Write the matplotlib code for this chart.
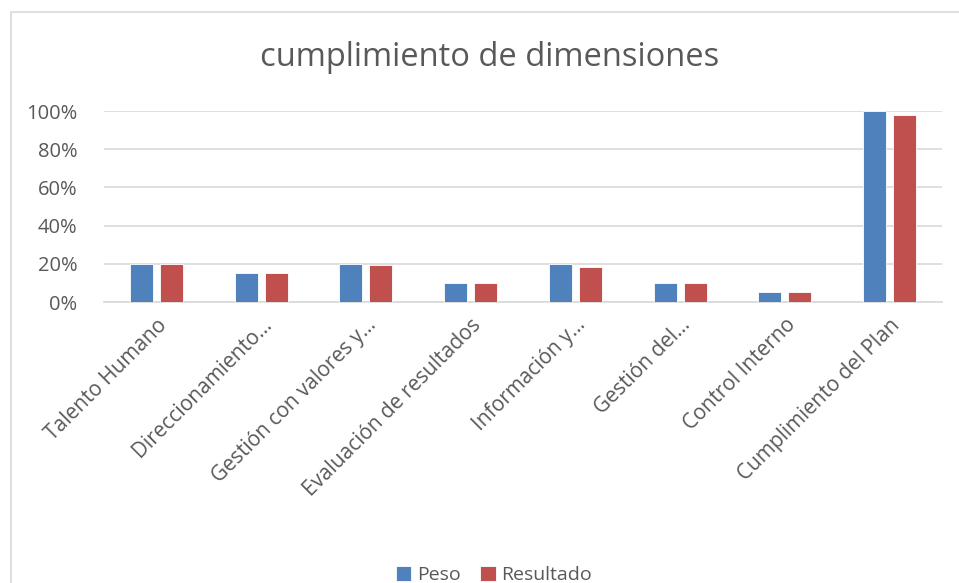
import matplotlib
matplotlib.use("Agg")
import matplotlib.pyplot as plt
import numpy as np
from matplotlib.patches import Rectangle
from matplotlib.ticker import FuncFormatter

categories = ["Talento Humano", "Direccionamiento…", "Gestión con valores y…",
              "Evaluación de resultados", "Información y…", "Gestión del…",
              "Control Interno", "Cumplimiento del Plan"]
peso = [0.20, 0.15, 0.20, 0.10, 0.20, 0.10, 0.05, 1.00]
resultado = [0.20, 0.15, 0.195, 0.10, 0.183, 0.10, 0.05, 0.98]
series_names = ["Peso", "Resultado"]
yticks = [0, 0.2, 0.4, 0.6, 0.8, 1.0]

plt.rcParams['font.family'] = ['Open Sans', 'DejaVu Sans']
W, H = 959, 583
fig = plt.figure(figsize=(W/100, H/100), dpi=100)
fig.patch.set_facecolor('white')

# chart border
fig.add_artist(Rectangle((11/W, -0.05), 1.1, 1 - 12/H + 0.05, transform=fig.transFigure,
                         fill=False, edgecolor='#D9D9D9', linewidth=1.2))

left, right, top, bottom = 104, 942, 111, 302
ax = fig.add_axes([left/W, 1 - bottom/H, (right-left)/W, (bottom-top)/H])

x = np.arange(len(categories))
bw = 0.22
off = 0.143
ax.bar(x - off, peso, bw, color='#4F81BD', edgecolor='white', linewidth=0.6, label=series_names[0], zorder=3)
ax.bar(x + off, resultado, bw, color='#C0504D', edgecolor='white', linewidth=0.6, label=series_names[1], zorder=3)

ax.set_xlim(-0.5, len(categories) - 0.5)
ax.set_ylim(0, 1.0)
ax.set_yticks(yticks)
ax.yaxis.set_major_formatter(FuncFormatter(lambda v, p: f"{v*100:.0f}%"))
ax.grid(axis='y', color='#D9D9D9', linewidth=1.2, zorder=0)
ax.set_axisbelow(True)
for s in ['top', 'right', 'left']:
    ax.spines[s].set_visible(False)
ax.spines['bottom'].set_color('#D9D9D9')
ax.spines['bottom'].set_linewidth(1.2)
ax.tick_params(axis='y', length=0, labelsize=14.5, labelcolor='#595959', pad=19)
ax.tick_params(axis='x', length=0, labelsize=15, labelcolor='#595959', pad=9)
ax.set_xticks(x)
ax.set_xticklabels(categories, rotation=45, ha='right', rotation_mode='anchor')

fig.text(490/W, 1 - 57/H, "cumplimiento de dimensiones", ha='center', va='center',
         fontsize=23.5, color='#595959')

handles, labels = ax.get_legend_handles_labels()
fig.legend(handles, labels, loc='center', bbox_to_anchor=(494/W, 1 - 575/H), ncol=2,
           frameon=False, fontsize=14, labelcolor='#595959', handlelength=0.8,
           handleheight=0.8, handletextpad=0.3, columnspacing=1.0,
           borderpad=0.1)

fig.savefig("out.png", dpi=100, facecolor='white')
